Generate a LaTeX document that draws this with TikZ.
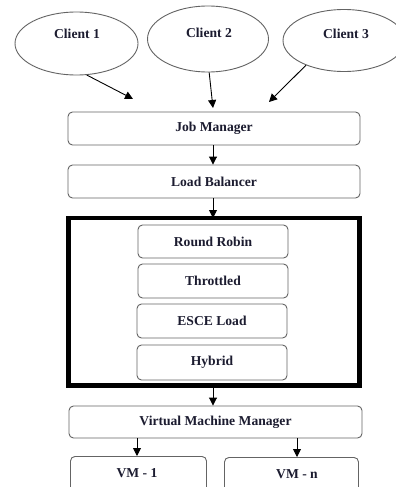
\documentclass[tikz,border=0pt]{standalone}
\usepackage{fontspec}
\setmainfont{Liberation Serif}
\usetikzlibrary{shapes.geometric,arrows.meta}
\definecolor{txt}{RGB}{28,28,48}
\definecolor{edge}{RGB}{100,100,100}
\tikzset{
  lbl/.style={font=\fontsize{13.6}{15}\selectfont\bfseries, text=txt, inner sep=0pt},
  box/.style={draw=edge, line width=0.9pt, rounded corners=4.5pt, inner sep=0pt,
    font=\fontsize{13.6}{15}\selectfont\bfseries, text=txt},
  oval/.style={draw=edge, line width=0.9pt, ellipse, inner sep=0pt},
  arr/.style={draw=black, line width=0.9pt, -{Triangle[length=8pt,width=8pt]}},
}
\begin{document}
\begin{tikzpicture}[x=1pt,y=-1pt]
\useasboundingbox (0,0) rectangle (396,487);
\clip (0,0) rectangle (396,487);
\fill[white] (0,0) rectangle (396,487);
% clients
\node[oval, minimum width=123pt, minimum height=63pt] (c1) at (76.5,43.5) {};
\node[oval, minimum width=121pt, minimum height=66pt] (c2) at (208,39) {};
\node[oval, minimum width=122pt, minimum height=62pt] (c3) at (344,40.5) {};
\node[lbl] (l1) at (77,34) {Client 1};
\node[lbl] (l2) at (209,33) {Client 2};
\node[lbl] (l3) at (346,34) {Client 3};
\coordinate (t1) at (133,99);
\coordinate (t2) at (213,108);
\coordinate (t3) at (269,102);
\draw[arr] (c1.-72) -- (t1);
\draw[arr] (c2.-88) -- (t2);
\draw[arr] (c3.-147) -- (t3);
% managers
\node[box, minimum width=292pt, minimum height=33pt] (jm) at (214,128.5) {Job Manager};
\node[box, minimum width=292pt, minimum height=33pt] (lb) at (214,181.5) {Load Balancer};
\node[draw=black, line width=4.6pt, minimum width=291pt, minimum height=167.5pt, inner sep=0pt] (big) at (214,301.75) {};
\node[box, minimum width=150pt, minimum height=33pt] (rr) at (213,241.5) {Round Robin};
\node[box, minimum width=150pt, minimum height=34pt] (th) at (213,281) {Throttled};
\node[box, minimum width=150pt, minimum height=34pt] (es) at (212,321) {ESCE Load};
\node[box, minimum width=150pt, minimum height=35pt] (hy) at (212,362.5) {Hybrid};
\node[box, minimum width=293pt, minimum height=32pt] (vmm) at (215.5,422) {Virtual Machine Manager};
\node[box, minimum width=136pt, minimum height=44pt, anchor=north] (vm1) at (138.5,456) {};
\node[box, minimum width=134pt, minimum height=44pt, anchor=north] (vmn) at (291.5,457) {};
\node[lbl] (v1t) at (137,473) {VM - 1};
\node[lbl] (vnt) at (297,474) {VM - n};
% arrows
\draw[arr] (jm.south -| 213,0) -- (lb.north -| 213,0);
\draw[arr] (lb.south -| 213,0) -- ([yshift=-2.3pt]big.north -| 213,0);
\draw[arr] ([yshift=2.3pt]big.south -| 213,0) -- (vmm.north -| 213,0);
\draw[arr] (vmm.south -| 137,0) -- (vm1.north -| 137,0);
\draw[arr] (vmm.south -| 297,0) -- (vmn.north -| 297,0);
\end{tikzpicture}
\end{document}
